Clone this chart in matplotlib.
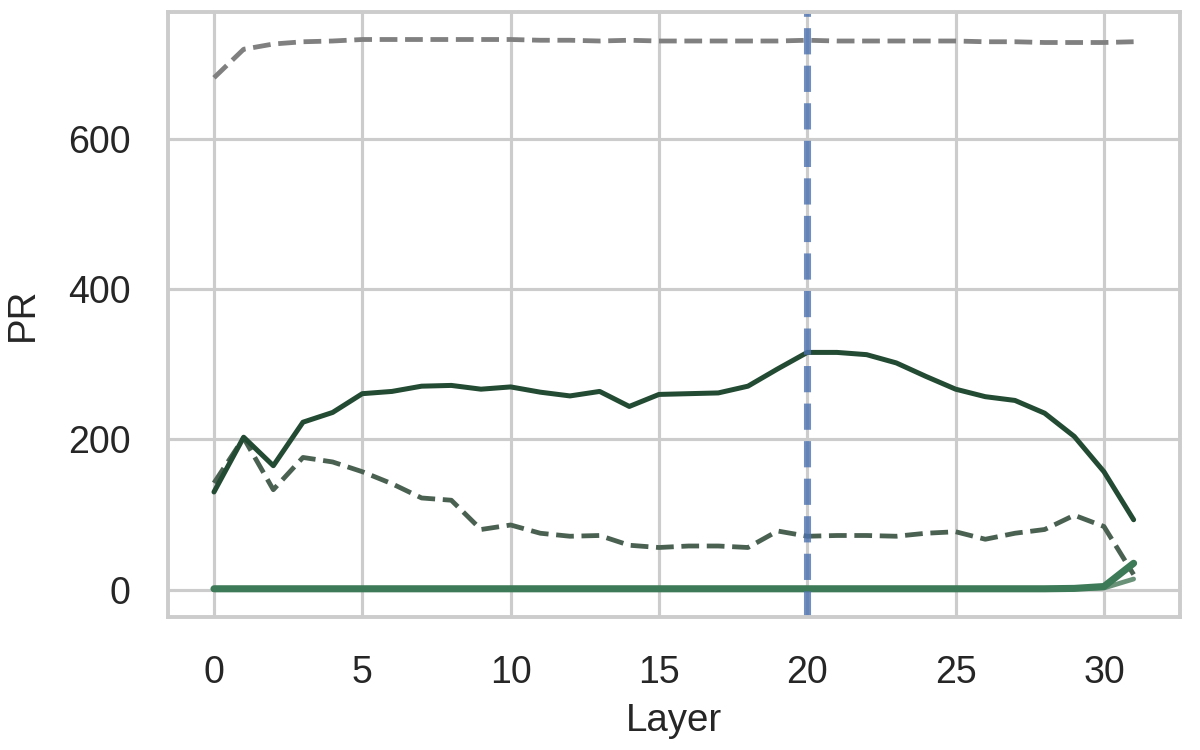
import matplotlib
matplotlib.use("Agg")
import matplotlib.pyplot as plt
import seaborn as sns
import numpy as np

layers = list(range(32))

pr_max = [682, 720, 727, 730, 731, 733, 733, 733, 733, 733, 733, 732, 732, 731, 732, 731,
          731, 731, 731, 731, 732, 731, 731, 731, 731, 731, 730, 730, 729, 729, 729, 730]

pr_mean = [130, 203, 165, 223, 236, 261, 264, 271, 272, 267, 270, 263, 258, 264, 244, 260,
           261, 262, 271, 294, 316, 316, 313, 302, 284, 267, 257, 252, 235, 204, 157, 93]

pr_dash = [142, 202, 133, 176, 170, 157, 141, 122, 119, 80, 86, 75, 71, 72, 59, 56,
           58, 58, 56, 78, 71, 72, 72, 71, 75, 77, 67, 75, 80, 99, 84, 20]

pr_low = [1, 1, 1, 1, 1, 1, 1, 1, 1, 1, 1, 1, 1, 1, 1, 1,
          1, 1, 1, 1, 1, 1, 1, 1, 1, 1, 1, 1, 1, 1.5, 4, 35]

pr_low2 = [0, 0, 0, 0, 0, 0, 0, 0, 0, 0, 0, 0, 0, 0, 0, 0,
           0, 0, 0, 0, 0, 0, 0, 0, 0, 0, 0, 0, 0, 1, 2, 14]

marker_layer = 20

sns.set_theme(style="whitegrid", context="talk")
plt.rcParams['font.family'] = ['Liberation Sans', 'DejaVu Sans']

fig = plt.figure(figsize=(8, 5), dpi=150)
ax = fig.add_axes([0.14, 0.1773, 0.843, 0.8067])

ax.plot(layers, pr_max, color="#808080", lw=2.3, ls="--")
ax.plot(layers, pr_low2, color="#6a9278", lw=2.3)
ax.plot(layers, pr_dash, color="#4a6152", lw=2.3, ls="--")
ax.plot(layers, pr_mean, color="#234a33", lw=2.4)
ax.plot(layers, pr_low, color="#3d7a57", lw=3.4, solid_capstyle="round")
ax.axvline(marker_layer, color="#4c72b0", alpha=0.8, lw=3.4, ls="--")

ax.set_xlabel("Layer", fontsize=18.5, labelpad=6)
ax.set_ylabel("PR", fontsize=18.5, labelpad=13)
ax.tick_params(axis="both", labelsize=18, pad=9)
ax.set_yticks([0, 200, 400, 600])
ax.set_xticks([0, 5, 10, 15, 20, 25, 30])

fig.savefig("out.png", dpi=150)
